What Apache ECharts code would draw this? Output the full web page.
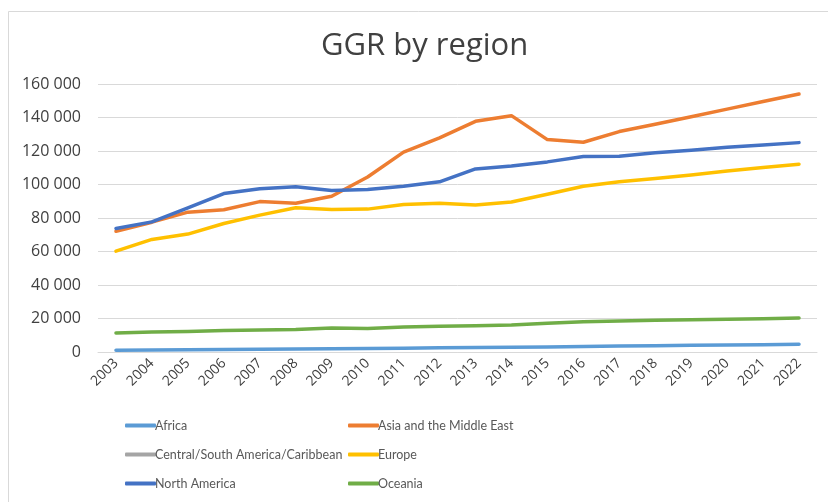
<!DOCTYPE html>
<html>
<head>
<meta charset="utf-8">
<script src="https://cdn.jsdelivr.net/npm/echarts@6/dist/echarts.min.js"></script>
<style>
  html, body { margin: 0; padding: 0; background: #fff; }
  #chart { width: 828px; height: 502px; }
</style>
</head>
<body>
<div id="chart"></div>
<script>
var years = ['2003','2004','2005','2006','2007','2008','2009','2010','2011','2012',
             '2013','2014','2015','2016','2017','2018','2019','2020','2021','2022'];

var africa = [1000,1200,1300,1500,1700,1800,2000,2100,2300,2500,2700,2800,3000,3300,3600,3800,4000,4200,4400,4600];
var asiaMiddleEast = [72100,77500,83500,84900,89800,88800,93000,104500,119300,127800,137700,141100,126800,125200,131600,136000,140500,145000,149500,154000];
var centralSouthAmerica = [];
var europe = [60200,67200,70400,76700,81700,86100,85100,85300,88000,88800,87800,89600,94200,99000,101600,103600,105700,108100,110100,112100];
var northAmerica = [73700,77700,86000,94600,97400,98600,96400,97000,99000,101600,109300,111100,113500,116700,116900,118900,120400,122200,123600,125000];
var oceania = [11300,11900,12300,12800,13200,13500,14300,14100,14900,15300,15600,16100,17100,18100,18500,18900,19300,19600,19900,20300];

var seriesNames = ['Africa','Asia and the Middle East','Central/South America/Caribbean','Europe','North America','Oceania'];
var seriesData = [africa, asiaMiddleEast, centralSouthAmerica, europe, northAmerica, oceania];
var colors = ['#5B9BD5','#ED7D31','#A5A5A5','#FFC000','#4472C4','#70AD47'];

var font = '"Open Sans", "Noto Sans", sans-serif';
var legendFont = 'Lato, "Open Sans", sans-serif';

var myChart = echarts.init(document.getElementById('chart'));

var series = [];
for (var i = 0; i < seriesNames.length; i++) {
  series.push({
    name: seriesNames[i],
    type: 'line',
    data: seriesData[i],
    symbol: 'none',
    color: colors[i],
    lineStyle: { width: 3.5, color: colors[i], cap: 'round', join: 'round' },
    animation: false
  });
}

var legendStyle = {
  orient: 'vertical',
  icon: 'roundRect',
  itemWidth: 31,
  itemHeight: 4,
  itemGap: 16,
  textStyle: { color: '#595959', fontSize: 12.5, fontFamily: legendFont, padding: [0, 0, 0, -6] }
};

var option = {
  backgroundColor: '#fff',
  title: {
    text: 'GGR by region',
    left: 316,
    top: 26,
    textStyle: { color: '#404040', fontSize: 31, fontWeight: 'normal', fontFamily: font }
  },
  legend: [
    Object.assign({ left: 120, top: 414, data: ['Africa','Central/South America/Caribbean','North America'] }, legendStyle),
    Object.assign({ left: 343, top: 414, data: ['Asia and the Middle East','Europe','Oceania'] }, legendStyle)
  ],
  grid: { left: 98, right: 11, top: 84, bottom: 150 },
  xAxis: {
    type: 'category',
    data: years,
    boundaryGap: true,
    axisLine: { show: true, lineStyle: { color: '#D9D9D9', width: 1 } },
    axisTick: { show: false },
    axisLabel: { rotate: 45, color: '#404040', fontSize: 14, fontFamily: font, margin: 9, interval: 0 }
  },
  yAxis: {
    type: 'value',
    min: 0,
    max: 160000,
    interval: 20000,
    axisLine: { show: false },
    axisTick: { show: false },
    splitLine: { lineStyle: { color: '#D9D9D9', width: 1 } },
    axisLabel: {
      color: '#404040', fontSize: 16, fontFamily: font, margin: 17,
      formatter: function (v) { return v === 0 ? '0' : String(v).replace(/\B(?=(\d{3})+(?!\d))/g, ' '); }
    }
  },
  graphic: [
    { type: 'line', shape: { x1: 8.5, y1: 11.5, x2: 828, y2: 11.5 }, style: { stroke: '#D9D9D9', lineWidth: 1 } },
    { type: 'line', shape: { x1: 8.5, y1: 11.5, x2: 8.5, y2: 502 }, style: { stroke: '#D9D9D9', lineWidth: 1 } }
  ],
  series: series
};

myChart.setOption(option);
window.onresize = myChart.resize;
</script>
</body>
</html>
